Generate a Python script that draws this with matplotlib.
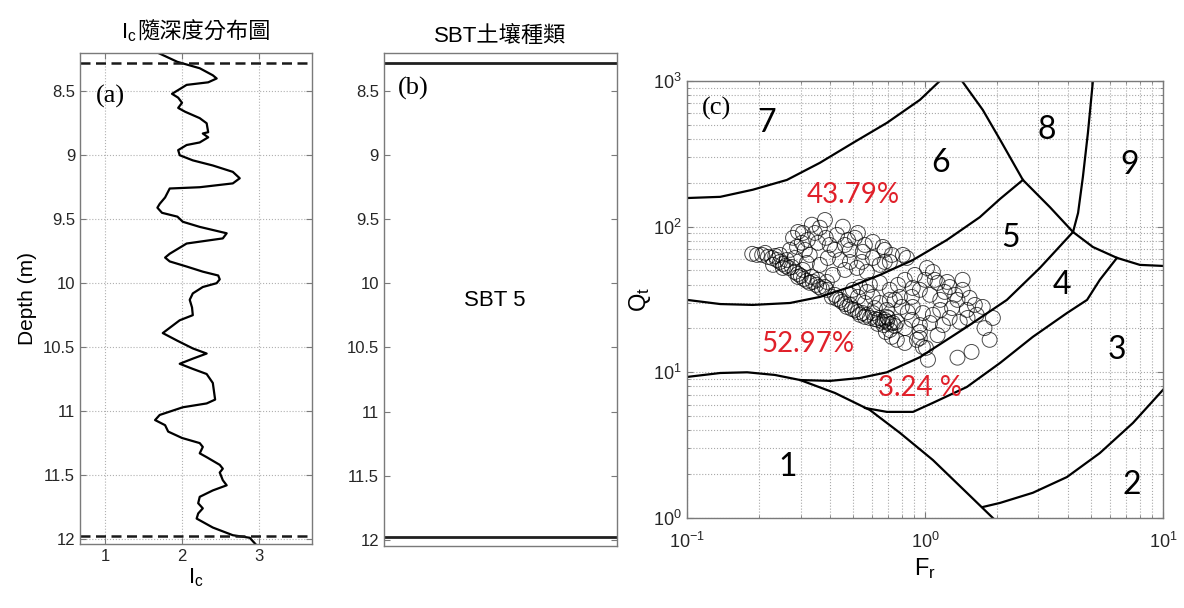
import numpy as np
import matplotlib
import matplotlib.pyplot as plt
from matplotlib.ticker import FormatStrFormatter, NullFormatter
from matplotlib.offsetbox import TextArea, HPacker, AnchoredOffsetbox

plt.rcParams['font.family'] = ['Liberation Sans', 'Noto Sans CJK TC']
plt.rcParams['mathtext.fontset'] = 'custom'
plt.rcParams['mathtext.rm'] = 'Liberation Sans'
plt.rcParams['mathtext.it'] = 'Liberation Sans:italic'
plt.rcParams['mathtext.bf'] = 'Liberation Sans:bold'

# ---- Ic profile (depth m, Ic) ----
ic_profile = np.array([
    (8.20, 1.69), (8.27, 1.94), (8.32, 2.23), (8.375, 2.40), (8.40, 2.45),
    (8.43, 2.34), (8.45, 2.06), (8.52, 1.87), (8.55, 1.95), (8.59, 2.00),
    (8.63, 1.95), (8.66, 2.04), (8.71, 2.23), (8.75, 2.32), (8.82, 2.34),
    (8.83, 2.27), (8.86, 2.34), (8.90, 2.23), (8.92, 2.06), (8.96, 1.95),
    (9.00, 1.97), (9.04, 2.14), (9.08, 2.40), (9.13, 2.66), (9.18, 2.75),
    (9.22, 2.66), (9.25, 2.23), (9.26, 1.84), (9.33, 1.78), (9.38, 1.71),
    (9.41, 1.68), (9.45, 1.74), (9.48, 1.94), (9.52, 2.01), (9.56, 2.23),
    (9.61, 2.58), (9.65, 2.53), (9.69, 2.06), (9.73, 1.95), (9.77, 1.84),
    (9.80, 1.78), (9.83, 1.84), (9.87, 2.06), (9.91, 2.27), (9.94, 2.47),
    (9.97, 2.49), (10.00, 2.45), (10.03, 2.27), (10.08, 2.14), (10.13, 2.10),
    (10.19, 2.13), (10.25, 2.14), (10.29, 1.97), (10.39, 1.75), (10.45, 1.94),
    (10.51, 2.14), (10.55, 2.32), (10.59, 2.14), (10.63, 1.97), (10.67, 2.14),
    (10.71, 2.32), (10.78, 2.40), (10.91, 2.43), (10.94, 2.32), (10.97, 2.01),
    (11.03, 1.71), (11.07, 1.65), (11.11, 1.78), (11.16, 1.82), (11.21, 2.00),
    (11.25, 2.23), (11.28, 2.27), (11.33, 2.23), (11.36, 2.32), (11.42, 2.49),
    (11.45, 2.53), (11.48, 2.49), (11.54, 2.53), (11.58, 2.58), (11.62, 2.40),
    (11.67, 2.23), (11.72, 2.21), (11.76, 2.27), (11.80, 2.21), (11.84, 2.19),
    (11.91, 2.40), (11.97, 2.66), (11.99, 2.88), (12.05, 2.97),
])
layer_top, layer_bottom = 8.28, 11.98
layer_name = 'SBT 5'

# ---- Robertson chart boundaries (Fr %, Qt) ----
bnd_76_fr = [0.100, 0.138, 0.189, 0.263, 0.362, 0.498, 0.692, 0.953, 1.156]
bnd_76_qt = [157, 160, 179, 209, 274, 375, 515, 741, 1000]
bnd_8_fr = [1.43, 1.75, 2.07, 2.58, 3.35, 4.19, 5.08, 6.41, 8.0, 10.0]
bnd_8_qt = [1000, 632, 394, 209, 136, 91.8, 72.4, 61.0, 54.6, 53.7]
bnd_89_fr = [5.08, 4.84, 4.61, 4.40, 4.19]
bnd_89_qt = [1000, 440, 219, 124, 91.8]
bnd_65_fr = [0.100, 0.138, 0.189, 0.271, 0.362, 0.484, 0.647, 0.891, 1.236, 1.70, 2.07, 2.58]
bnd_65_qt = [31.4, 29.4, 29.0, 29.9, 32.9, 38.5, 46.6, 59.0, 80.9, 116, 155, 209]
bnd_1_fr = [0.100, 0.138, 0.179, 0.234, 0.299, 0.419, 0.587, 0.785, 1.08, 1.50, 1.93]
bnd_1_qt = [9.29, 9.89, 10.0, 9.59, 8.85, 7.21, 5.51, 3.84, 2.50, 1.49, 1.00]
bnd_54_fr = [0.299, 0.399, 0.533, 0.692, 0.953, 1.50, 2.21, 3.04, 4.19]
bnd_54_qt = [8.85, 8.73, 9.14, 10.0, 12.7, 20.5, 31.4, 52.0, 91.8]
bnd_43_fr = [0.560, 0.692, 0.891, 1.08, 1.50, 2.07, 2.84, 3.95, 4.80, 5.43, 6.41]
bnd_43_qt = [5.69, 5.35, 5.35, 6.17, 7.93, 11.6, 17.5, 25.5, 31.4, 43.1, 61.0]
bnd_2_fr = [1.75, 2.07, 2.84, 3.95, 5.43, 7.48, 10.0]
bnd_2_qt = [1.19, 1.27, 1.49, 1.91, 2.79, 4.49, 7.57]

zone_names = ['1', '2', '3', '4', '5', '6', '7', '8', '9']
zone_fr = [0.266, 7.41, 6.41, 3.77, 2.28, 1.16, 0.217, 3.26, 7.26]
zone_qt = [2.24, 1.69, 14.2, 39.8, 83.6, 274, 515, 461, 265]

# ---- CPT points in the layer (Fr %, Qt) ----
cpt_points = np.array([
    (0.188, 65.0), (0.197, 63.9), (0.207, 63.9), (0.213, 66.0), (0.219, 61.9),
    (0.228, 60.9), (0.235, 62.9), (0.239, 59.0), (0.246, 57.2), (0.253, 55.4),
    (0.260, 53.7), (0.268, 52.0), (0.276, 52.8), (0.284, 48.8), (0.293, 47.3),
    (0.293, 45.1), (0.301, 45.8), (0.310, 43.7), (0.319, 42.4), (0.328, 41.1),
    (0.338, 41.7), (0.349, 39.8), (0.359, 38.5), (0.369, 37.3), (0.380, 38.5),
    (0.387, 36.8), (0.230, 54.6), (0.253, 52.0), (0.263, 59.0), (0.271, 69.2),
    (0.290, 72.5), (0.304, 77.3), (0.279, 83.7), (0.293, 91.9), (0.307, 90.4),
    (0.335, 103), (0.345, 90.4), (0.380, 111), (0.362, 98.2), (0.427, 87.7),
    (0.452, 99.8), (0.523, 90.4), (0.508, 83.7), (0.604, 78.5), (0.665, 72.5),
    (0.726, 63.9), (0.604, 60.9), (0.548, 67.1), (0.484, 69.2), (0.440, 59.0),
    (0.410, 46.6), (0.387, 41.7), (0.362, 54.6), (0.319, 56.3), (0.307, 50.4),
    (0.335, 45.1), (0.355, 43.1), (0.518, 52.0), (0.570, 48.8), (0.328, 63.9),
    (0.398, 74.8), (0.461, 74.8), (0.418, 69.2), (0.391, 60.9), (0.484, 57.2),
    (0.543, 57.2), (0.646, 54.6), (0.712, 57.2), (0.808, 63.9), (0.839, 60.9),
    (0.678, 57.2), (0.461, 50.4), (0.284, 60.9), (0.313, 69.2), (0.355, 77.3),
    (0.322, 81.0), (0.383, 83.7), (0.475, 81.0), (0.559, 74.8), (0.246, 63.9),
    (0.678, 69.2),
    (0.406, 32.9), (0.418, 34.0), (0.427, 31.9), (0.440, 31.4), (0.448, 30.4),
    (0.461, 29.4), (0.470, 28.1), (0.484, 29.0), (0.493, 27.2), (0.508, 26.8),
    (0.523, 25.9), (0.533, 24.8), (0.548, 25.5), (0.559, 24.0), (0.570, 24.8),
    (0.587, 23.6), (0.604, 25.5), (0.616, 23.2), (0.634, 22.9), (0.646, 23.6),
    (0.665, 22.2), (0.678, 22.9), (0.692, 22.2), (0.712, 21.5), (0.733, 21.8),
    (0.748, 20.8), (0.762, 22.2), (0.699, 23.6), (0.671, 21.1), (0.634, 21.5),
    (0.692, 26.8), (0.646, 29.9), (0.604, 32.9), (0.570, 35.6), (0.533, 38.5),
    (0.498, 36.8), (0.646, 41.1), (0.712, 36.8), (0.748, 31.4), (0.587, 39.8),
    (0.523, 32.9), (0.559, 29.9), (0.616, 27.6), (0.484, 34.0), (1.02, 52.0),
    (1.08, 48.8), (1.10, 43.1), (1.13, 41.1), (1.24, 41.7), (1.27, 38.5),
    (1.44, 36.8), (1.37, 31.4), (1.30, 27.6), (1.50, 26.8), (1.75, 28.1),
    (1.65, 24.8), (1.19, 21.1), (1.40, 22.2), (1.51, 23.6), (1.08, 24.8),
    (1.05, 21.8), (0.980, 25.5), (0.952, 21.1), (0.952, 18.9), (0.925, 16.7),
    (0.980, 14.9), (0.823, 15.9), (0.823, 20.1), (0.881, 22.9), (0.800, 28.1),
    (0.889, 28.1), (0.881, 32.9), (0.785, 32.9), (0.889, 37.9), (0.712, 31.4),
    (0.692, 24.0), (0.712, 19.5), (0.726, 17.5), (1.01, 14.7), (0.952, 17.2),
    (1.16, 31.4), (1.21, 35.6), (1.34, 34.0), (1.54, 32.4), (1.62, 29.0),
    (1.16, 26.8), (1.05, 34.0), (0.952, 36.8), (1.00, 43.1), (0.907, 46.6),
    (0.823, 43.1), (0.770, 39.8), (0.847, 25.9), (1.27, 23.6), (1.13, 18.0),
    (0.762, 16.7), (0.685, 18.9), (1.44, 43.1),
    (1.03, 12.2), (1.37, 12.6), (1.57, 13.8), (1.78, 20.1), (1.87, 16.7),
    (1.93, 23.6),
])

AXIS_GRAY = '#7a7a7a'
LABEL_COLOR = '#262626'
RED = '#e0202a'
CJK = ['Noto Sans CJK TC', 'DejaVu Sans']


def matlab_style(ax, size=12):
    for sp in ax.spines.values():
        sp.set_color(AXIS_GRAY)
        sp.set_linewidth(1.0)
    ax.tick_params(which='both', direction='in', top=True, right=True,
                   color=AXIS_GRAY, labelcolor=LABEL_COLOR, labelsize=size)
    ax.tick_params(which='major', length=4)
    ax.tick_params(which='minor', length=2)


fig = plt.figure(figsize=(11.84, 6.08), dpi=100)
ax_a = fig.add_axes([0.0676, 0.105, 0.196, 0.808])
ax_b = fig.add_axes([0.3243, 0.102, 0.197, 0.811])
ax_c = fig.add_axes([0.5802, 0.148, 0.402, 0.719])

depth, ic = ic_profile[:, 0], ic_profile[:, 1]
depth_ticks = [8.5, 9, 9.5, 10, 10.5, 11, 11.5, 12]

# (a) Ic with depth
matlab_style(ax_a)
ax_a.plot(ic, depth, color='k', lw=1.6)
for d in (layer_top, layer_bottom):
    ax_a.axhline(d, color='#1a1a1a', lw=1.8, ls=(0, (4, 2.2)))
ax_a.set_xlim(0.675, 3.69)
ax_a.set_ylim(12.04, 8.2)
ax_a.set_xticks([1, 2, 3])
ax_a.set_yticks(depth_ticks)
ax_a.yaxis.set_major_formatter(FormatStrFormatter('%g'))
ax_a.grid(True, ls=':', color='#b0b0b0', lw=0.8)
ax_a.set_ylabel('Depth (m)', fontsize=15, color='k')
ax_a.set_xlabel(r'$\mathregular{I_c}$', fontsize=16, color='k', labelpad=2)

# title: Ic symbol (mathtext) followed by the CJK caption
title_parts = HPacker(children=[
    TextArea(r'$\mathregular{I_c}$', textprops=dict(fontsize=16)),
    TextArea('隨深度分布圖', textprops=dict(fontsize=16, family=CJK)),
], align='baseline', pad=0, sep=0)
title_box = AnchoredOffsetbox(loc='lower center', child=title_parts, pad=0,
                              borderpad=0, frameon=False,
                              bbox_to_anchor=(0.5, 1.018),
                              bbox_transform=ax_a.transAxes)
ax_a.add_artist(title_box)
ax_a.text(0.07, 0.912, '(a)', transform=ax_a.transAxes, fontsize=19,
          family='Liberation Serif', va='center', ha='left')

# (b) soil behaviour type layer
matlab_style(ax_b)
ax_b.tick_params(top=False, bottom=False)
ax_b.set_xlim(0, 1)
ax_b.set_ylim(12.05, 8.2)
ax_b.set_xticks([])
ax_b.set_yticks(depth_ticks)
ax_b.yaxis.set_major_formatter(FormatStrFormatter('%g'))
for d in (layer_top, layer_bottom):
    ax_b.axhline(d, color='#202020', lw=2.0)
ax_b.text(0.475, (layer_top + layer_bottom) / 2, layer_name, fontsize=16,
          ha='center', va='center')
ax_b.set_title('SBT土壤種類', fontsize=16, pad=8)
ax_b.text(0.06, 0.927, '(b)', transform=ax_b.transAxes, fontsize=19,
          family='Liberation Serif', va='center', ha='left')

# (c) normalised SBT chart
matlab_style(ax_c, size=13)
ax_c.tick_params(axis='x', which='major', pad=10)
ax_c.set_xscale('log')
ax_c.set_yscale('log')
ax_c.set_xlim(0.1, 10)
ax_c.set_ylim(1, 1000)
ax_c.xaxis.set_minor_formatter(NullFormatter())
ax_c.yaxis.set_minor_formatter(NullFormatter())
ax_c.grid(True, which='both', ls=':', color='#a8a8a8', lw=0.8)
ax_c.set_axisbelow(True)

boundaries = [(bnd_76_fr, bnd_76_qt), (bnd_8_fr, bnd_8_qt), (bnd_89_fr, bnd_89_qt),
              (bnd_65_fr, bnd_65_qt), (bnd_1_fr, bnd_1_qt), (bnd_54_fr, bnd_54_qt),
              (bnd_43_fr, bnd_43_qt), (bnd_2_fr, bnd_2_qt)]
for bfr, bqt in boundaries:
    ax_c.plot(bfr, bqt, color='k', lw=1.6, solid_joinstyle='round')

pt_fr, pt_qt = cpt_points[:, 0], cpt_points[:, 1]
ax_c.scatter(pt_fr, pt_qt, s=115, facecolors='none', edgecolors='k',
             linewidths=0.7, alpha=0.7, zorder=3)

# share of points in zones 6, 5 and 4
lfr, lqt = np.log10(pt_fr), np.log10(pt_qt)
above_65 = lqt > np.interp(lfr, np.log10(bnd_65_fr), np.log10(bnd_65_qt))
below_54 = lqt < np.interp(lfr, np.log10(bnd_54_fr), np.log10(bnd_54_qt))
n = len(pt_fr)
pct4 = round(100 * below_54.sum() / n, 2)
pct5 = round(100 * (~above_65 & ~below_54).sum() / n, 2)
pct6 = 100 - pct5 - pct4

pct_style = dict(color=RED, fontsize=20, family='Lato', ha='center', va='center')
ax_c.text(0.498, 165, f'{pct6:.2f}%', **pct_style)
ax_c.text(0.322, 15.7, f'{pct5:.2f}%', **pct_style)
ax_c.text(0.953, 7.8, f'{pct4:.2f} %', **pct_style)

for name, zx, zy in zip(zone_names, zone_fr, zone_qt):
    ax_c.text(zx, zy, name, fontsize=23, family='Lato', ha='center', va='center')

ax_c.text(0.031, 0.938, '(c)', transform=ax_c.transAxes, fontsize=19,
          family='Liberation Serif', va='center', ha='left')
ax_c.set_xlabel(r'$\mathregular{F_r}$', fontsize=17, color='k', labelpad=3)
ax_c.set_ylabel(r'$\mathregular{Q_t}$', fontsize=17, color='k', labelpad=0)

fig.savefig('out.png', dpi=100, facecolor='white')
